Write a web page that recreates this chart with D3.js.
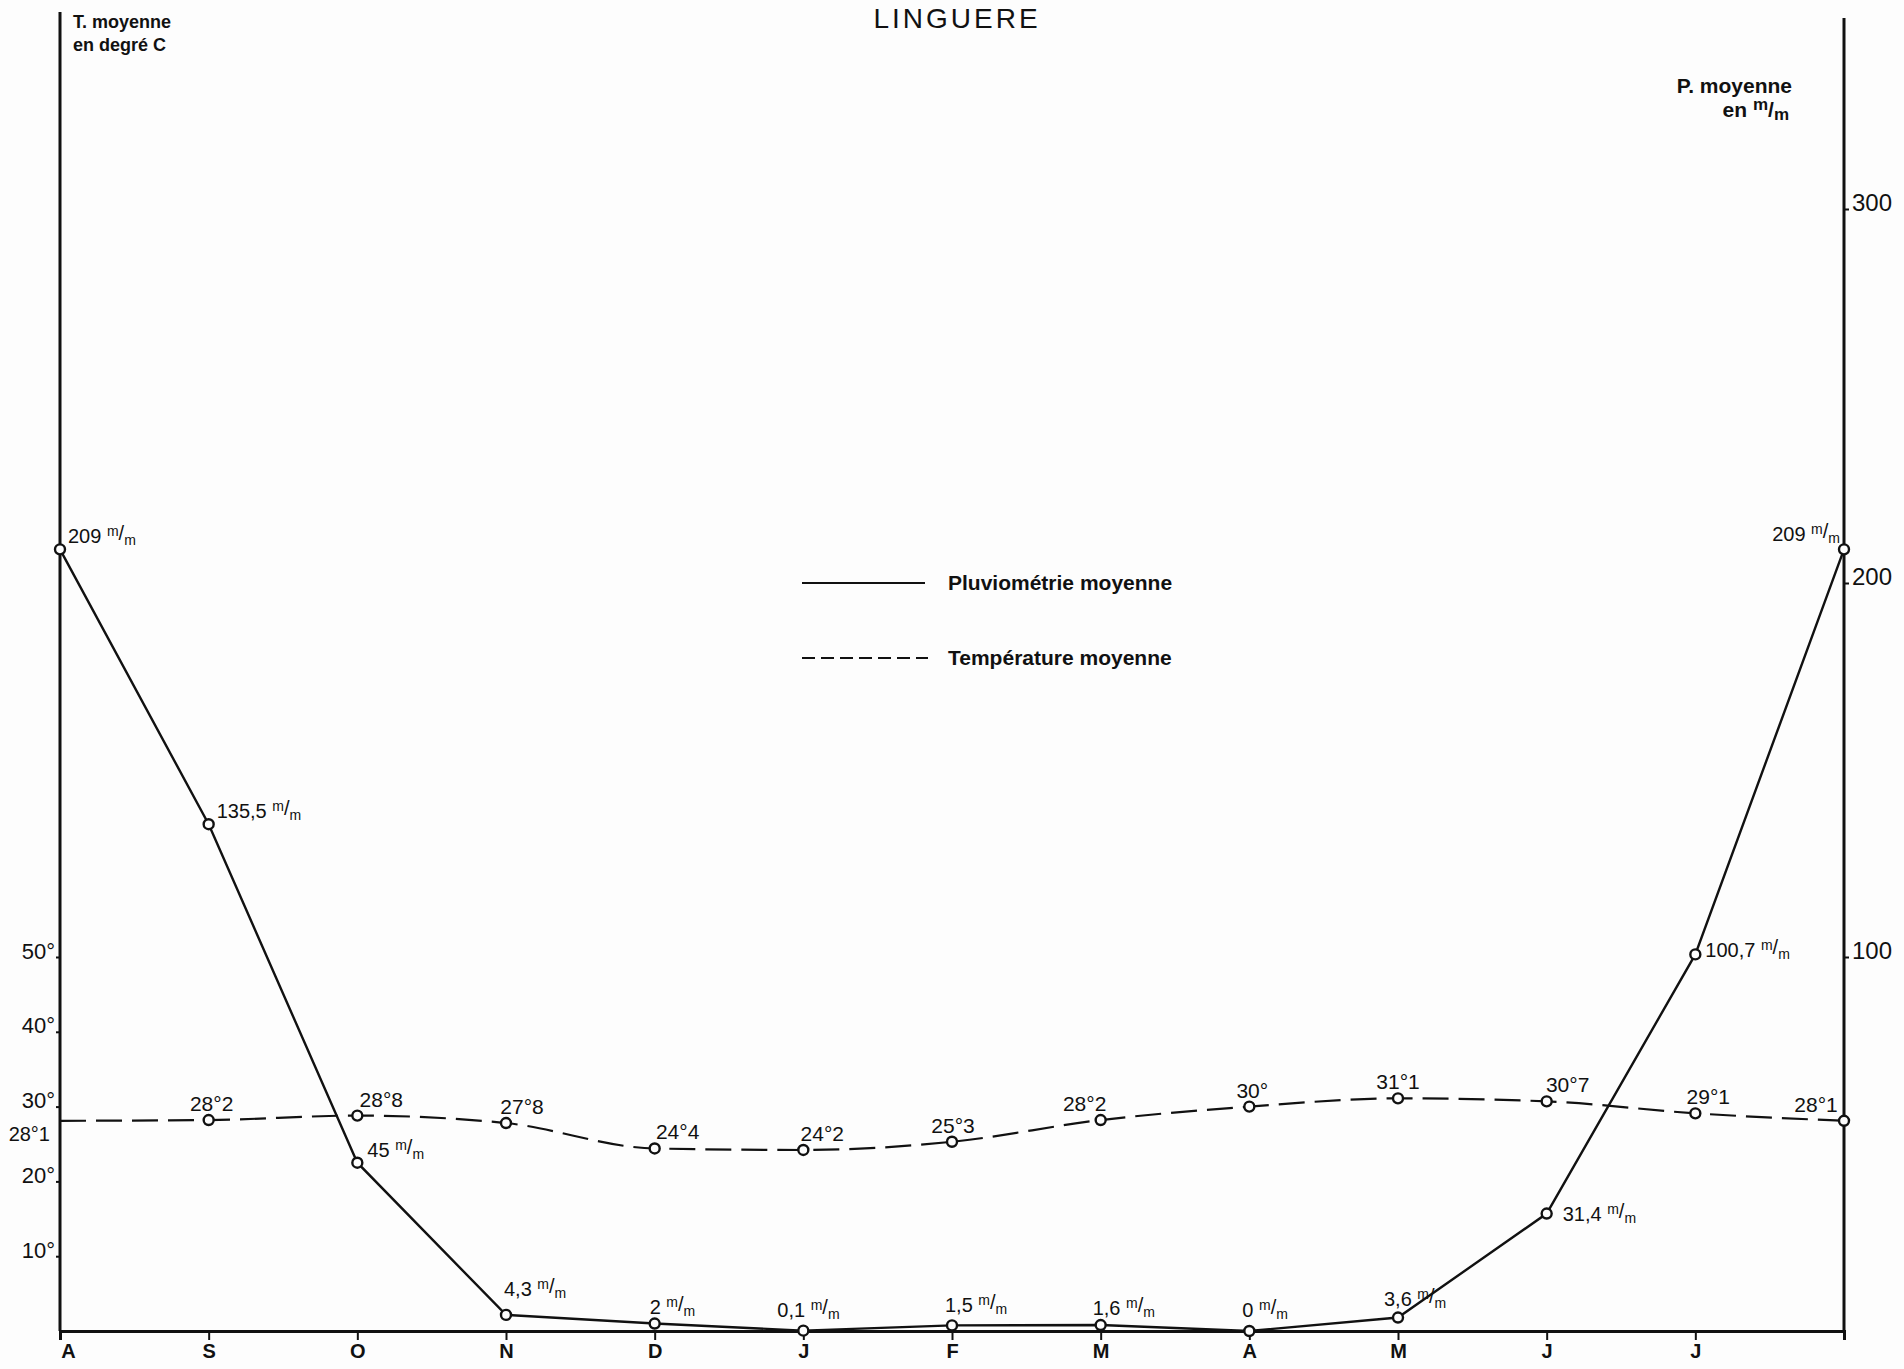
<!DOCTYPE html>
<html>
<head>
  <meta charset="utf-8">
  <title>Linguere</title>
  <script src="https://cdn.jsdelivr.net/npm/d3@7/dist/d3.min.js"></script>
  <style>
    body { margin: 0; background: #fdfdfd; }
    svg { display: block; }
    text { fill: #111; font-family: "Liberation Sans", Arial, sans-serif; }
    .axis path, .axis line { stroke: #111; }
    .bold { font-weight: bold; }
  </style>
</head>
<body>
  <div id="chart"></div>
  <script>
    // months, A(out) -> A(out) next year
    const months = ["A", "S", "O", "N", "D", "J", "F", "M", "A", "M", "J", "J", ""];
    // pluviometrie moyenne (mm)
    const pluvio = [209, 135.5, 45, 4.3, 2, 0.1, 1.5, 1.6, 0, 3.6, 31.4, 100.7, 209];
    // temperature moyenne (deg C)
    const temp = [28.1, 28.2, 28.8, 27.8, 24.4, 24.2, 25.3, 28.2, 30, 31.1, 30.7, 29.1, 28.1];
    const tempTicks = [10, 20, 30, 40, 50];
    const pluvioTicks = [100, 200, 300];

    const width = 1904, height = 1369;
    const left = 60, right = 1844, bottom = 1331;

    const svg = d3.select('#chart')
      .append('svg')
      .attr('width', width)
      .attr('height', height);

    const x = d3.scaleLinear().domain([0, months.length - 1]).range([left, right]);
    const yP = d3.scaleLinear().domain([0, 300]).range([bottom, 209]);
    const yT = d3.scaleLinear().domain([0, 150]).range([bottom, 209]);

    // title
    svg.append('text')
      .attr('x', 957).attr('y', 28)
      .attr('text-anchor', 'middle')
      .style('font-size', '28px')
      .style('letter-spacing', '3px')
      .text('LINGUERE');

    // axes lines
    svg.append('line').attr('x1', left).attr('x2', left).attr('y1', 12).attr('y2', bottom)
      .attr('stroke', '#111').attr('stroke-width', 3);
    svg.append('line').attr('x1', right).attr('x2', right).attr('y1', 18).attr('y2', bottom)
      .attr('stroke', '#111').attr('stroke-width', 3);

    // x axis
    const xAxis = svg.append('g')
      .attr('class', 'axis')
      .attr('transform', `translate(0,${bottom})`)
      .call(d3.axisBottom(x).tickValues(d3.range(months.length)).tickSize(9)
        .tickFormat(i => months[i]));
    xAxis.select('.domain').attr('stroke-width', 3);
    xAxis.selectAll('line').attr('stroke-width', 2);
    xAxis.selectAll('text')
      .attr('class', 'bold')
      .attr('y', 27).attr('dy', 0)
      .style('font-size', '20px')
      .attr('dx', (d, i) => i === 0 ? 8 : 0);

    // left axis (temperature)
    const lAxis = svg.append('g')
      .attr('class', 'axis')
      .attr('transform', `translate(${left},0)`)
      .call(d3.axisLeft(yT).tickValues(tempTicks).tickSize(4).tickFormat(d => d + '°'));
    lAxis.select('.domain').remove();
    lAxis.selectAll('line').attr('stroke-width', 2);
    lAxis.selectAll('text')
      .attr('x', -5).attr('dy', 1)
      .style('font-size', '22px');

    // right axis (precipitation)
    const rAxis = svg.append('g')
      .attr('class', 'axis')
      .attr('transform', `translate(${right},0)`)
      .call(d3.axisRight(yP).tickValues(pluvioTicks).tickSize(5).tickFormat(d3.format('d')));
    rAxis.select('.domain').remove();
    rAxis.selectAll('line').attr('stroke-width', 2);
    rAxis.selectAll('text')
      .attr('x', 8).attr('dy', 1)
      .style('font-size', '24px');

    // axis titles
    const lt = svg.append('text').attr('class', 'bold').style('font-size', '18px');
    lt.append('tspan').attr('x', 73).attr('y', 28).text('T. moyenne');
    lt.append('tspan').attr('x', 73).attr('y', 51).text('en degré C');

    svg.append('text').attr('class', 'bold').attr('text-anchor', 'end').style('font-size', '21px')
      .attr('x', 1792).attr('y', 93).text('P. moyenne');
    svg.append('text').attr('class', 'bold').attr('text-anchor', 'end').style('font-size', '21px')
      .attr('x', 1789).attr('y', 117)
      .call(t => {
        t.append('tspan').text('en ');
        t.append('tspan').attr('dy', -7).style('font-size', '17px').text('m');
        t.append('tspan').attr('dy', 7).text('/');
        t.append('tspan').attr('dy', 3).style('font-size', '17px').text('m');
      });

    // temperature line (dashed)
    const tLine = d3.line()
      .x((d, i) => x(i))
      .y(d => yT(d))
      .curve(d3.curveMonotoneX);
    svg.append('path')
      .datum(temp)
      .attr('d', tLine)
      .attr('fill', 'none')
      .attr('stroke', '#111')
      .attr('stroke-width', 2.2)
      .attr('stroke-dasharray', '26 10');

    // precipitation line
    const pLine = d3.line()
      .x((d, i) => x(i))
      .y(d => yP(d));
    svg.append('path')
      .datum(pluvio)
      .attr('d', pLine)
      .attr('fill', 'none')
      .attr('stroke', '#111')
      .attr('stroke-width', 2.4);

    // markers
    svg.selectAll('.tdot')
      .data(temp.map((v, i) => [i, v]).filter(d => d[0] > 0))
      .join('circle')
      .attr('cx', d => x(d[0]))
      .attr('cy', d => yT(d[1]))
      .attr('r', 5)
      .attr('fill', '#fdfdfd')
      .attr('stroke', '#111')
      .attr('stroke-width', 2.4);

    svg.selectAll('.pdot')
      .data(pluvio)
      .join('circle')
      .attr('cx', (d, i) => x(i))
      .attr('cy', d => yP(d))
      .attr('r', 5)
      .attr('fill', '#fdfdfd')
      .attr('stroke', '#111')
      .attr('stroke-width', 2.4);

    // temperature labels
    const tDx = [0, 3, 24, 16, 23, 19, 1, -16, 3, 0, 21, 13, -28];
    const tFmt = v => {
      const s = v.toFixed(1).split('.');
      return s[1] === '0' ? s[0] + '°' : s[0] + '°' + s[1];
    };
    svg.selectAll('.tlab')
      .data(temp)
      .join('text')
      .attr('x', (d, i) => i === 0 ? left - 10 : x(i) + tDx[i])
      .attr('y', (d, i) => i === 0 ? yT(d) + 20 : yT(d) - 9)
      .attr('text-anchor', (d, i) => i === 0 ? 'end' : 'middle')
      .style('font-size', (d, i) => i === 0 ? '20px' : '21px')
      .text(tFmt);

    // precipitation labels
    const pPos = [[8, -6], [8, -6], [10, -6], [-2, -19], [-5, -10], [-26, -14], [-7, -13],
                  [-8, -10], [-7, -14], [-14, -12], [16, 7], [10, 3], [-4, -8]];
    svg.selectAll('.plab')
      .data(pluvio)
      .join('text')
      .attr('x', (d, i) => x(i) + pPos[i][0])
      .attr('y', d => yP(d))
      .attr('dy', (d, i) => pPos[i][1])
      .attr('text-anchor', (d, i) => i === pluvio.length - 1 ? 'end' : 'start')
      .style('font-size', '20px')
      .each(function(d) {
        const t = d3.select(this);
        t.append('tspan').text(String(d).replace('.', ',') + ' ');
        t.append('tspan').attr('dy', -7).style('font-size', '14px').text('m');
        t.append('tspan').attr('dy', 4).text('/');
        t.append('tspan').attr('dy', 5).style('font-size', '14px').text('m');
      });

    // legend
    const legend = svg.append('g');
    legend.append('line').attr('x1', 802).attr('x2', 925).attr('y1', 583).attr('y2', 583)
      .attr('stroke', '#111').attr('stroke-width', 2);
    legend.append('text').attr('class', 'bold').attr('x', 948).attr('y', 590)
      .style('font-size', '21px').text('Pluviométrie moyenne');
    legend.append('line').attr('x1', 802).attr('x2', 928).attr('y1', 658).attr('y2', 658)
      .attr('stroke', '#111').attr('stroke-width', 2).attr('stroke-dasharray', '13 6');
    legend.append('text').attr('class', 'bold').attr('x', 948).attr('y', 665)
      .style('font-size', '21px').text('Température moyenne');
  </script>
</body>
</html>
